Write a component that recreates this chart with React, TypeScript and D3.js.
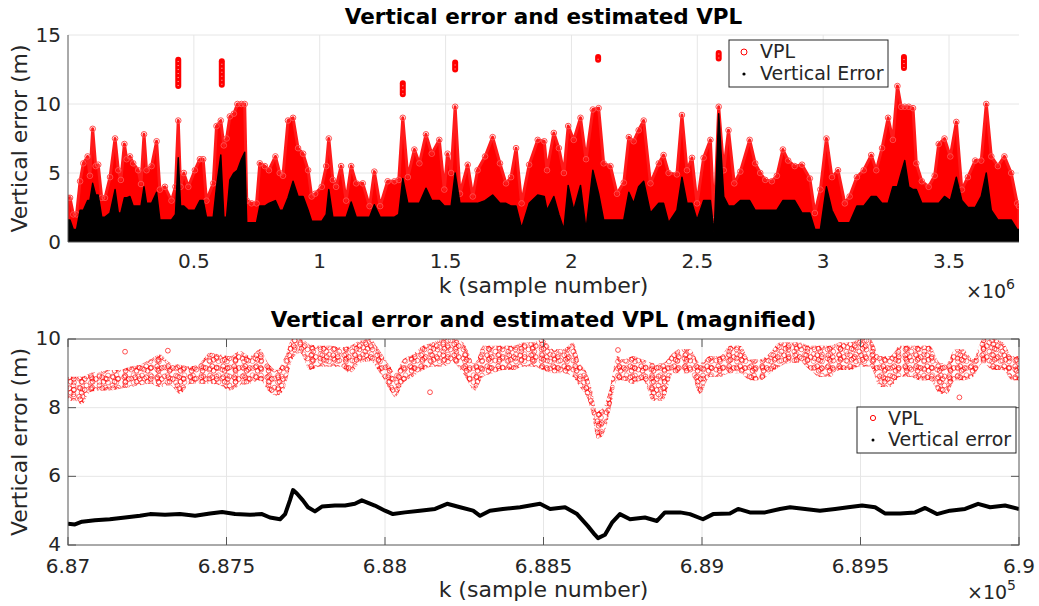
import React from "react";
import * as d3 from "d3";

// top panel: envelope of VPL / vertical error (k in 1e6)
const topK = [
  0.0, 0.008, 0.021, 0.034, 0.048, 0.061, 0.078, 0.087, 0.098, 0.11, 0.12, 0.134, 0.147, 0.167, 0.187, 0.2, 0.21,
  0.224, 0.233, 0.246, 0.259, 0.279, 0.29, 0.302, 0.312, 0.332, 0.352, 0.365, 0.385, 0.411, 0.427, 0.438, 0.447,
  0.46, 0.478, 0.504, 0.524, 0.537, 0.55, 0.577, 0.59, 0.607, 0.619, 0.63, 0.643, 0.659, 0.673, 0.689, 0.702, 0.71,
  0.729, 0.749, 0.762, 0.782, 0.798, 0.824, 0.841, 0.854, 0.874, 0.894, 0.914, 0.934, 0.954, 0.968, 0.982, 1.008,
  1.026, 1.036, 1.052, 1.065, 1.085, 1.105, 1.125, 1.145, 1.171, 1.198, 1.217, 1.24, 1.27, 1.297, 1.314, 1.33,
  1.35, 1.376, 1.396, 1.422, 1.445, 1.475, 1.495, 1.508, 1.522, 1.538, 1.557, 1.588, 1.608, 1.627, 1.657, 1.687,
  1.716, 1.74, 1.76, 1.78, 1.802, 1.832, 1.866, 1.892, 1.903, 1.93, 1.95, 1.97, 1.987, 2.009, 2.036, 2.058, 2.085,
  2.108, 2.128, 2.155, 2.181, 2.208, 2.228, 2.247, 2.267, 2.287, 2.314, 2.347, 2.366, 2.386, 2.419, 2.439, 2.459,
  2.479, 2.499, 2.525, 2.552, 2.567, 2.585, 2.605, 2.624, 2.647, 2.671, 2.708, 2.73, 2.75, 2.77, 2.796, 2.816,
  2.84, 2.861, 2.887, 2.916, 2.947, 2.967, 2.989, 3.013, 3.035, 3.059, 3.086, 3.105, 3.134, 3.161, 3.191, 3.211,
  3.234, 3.258, 3.277, 3.295, 3.31, 3.324, 3.34, 3.357, 3.37, 3.392, 3.419, 3.443, 3.459, 3.482, 3.505, 3.529,
  3.551, 3.575, 3.604, 3.628, 3.648, 3.668, 3.694, 3.72, 3.747, 3.771, 3.778,
];
const topVpl = [
  3.2, 3.2, 2.0, 2.0, 4.4, 5.7, 6.2, 4.8, 8.2, 5.5, 5.6, 3.2, 3.2, 4.7, 7.5, 5.2, 4.5, 7.1, 6.0, 6.2, 5.7, 5.2, 4.2,
  7.8, 5.2, 5.5, 7.3, 3.8, 4.0, 3.0, 4.0, 8.8, 4.0, 5.0, 4.0, 5.2, 6.0, 6.0, 3.0, 4.25, 8.4, 8.8, 7.0, 7.5, 9.1,
  9.3, 10.0, 10.0, 10.0, 3.0, 2.8, 2.8, 5.7, 5.5, 5.2, 6.2, 5.0, 4.8, 8.8, 9.0, 6.8, 6.4, 5.2, 3.3, 3.5, 4.0, 5.5,
  7.5, 4.5, 4.0, 5.5, 3.0, 5.5, 4.25, 4.25, 2.6, 5.1, 2.6, 4.4, 4.4, 4.5, 9.0, 4.7, 6.7, 5.7, 7.8, 6.4, 7.4, 3.8,
  6.4, 5.0, 9.8, 3.5, 5.6, 3.3, 5.2, 6.2, 7.6, 5.7, 4.25, 4.7, 6.8, 2.8, 5.6, 7.4, 7.3, 5.2, 7.9, 6.8, 5.0, 8.4,
  7.4, 9.0, 6.0, 9.6, 9.7, 5.7, 5.5, 3.5, 4.3, 7.6, 7.3, 8.1, 8.8, 4.25, 5.7, 6.3, 5.0, 4.9, 9.2, 5.2, 6.1, 2.8,
  6.1, 7.4, 1.6, 9.8, 5.2, 8.1, 4.25, 5.1, 7.4, 5.7, 5.0, 4.5, 4.4, 4.8, 6.7, 5.9, 5.5, 5.6, 4.6, 2.1, 3.8, 7.5,
  4.7, 5.2, 2.8, 3.3, 4.7, 5.2, 6.3, 5.2, 6.8, 9.0, 7.4, 11.3, 9.8, 9.8, 9.8, 9.7, 5.7, 4.4, 4.0, 4.8, 7.1, 7.5,
  6.2, 8.7, 3.8, 4.7, 5.9, 5.9, 10.0, 6.2, 5.5, 6.2, 5.0, 2.8, 2.6,
];
const topVe = [
  1.6, 1.6, 0.9, 0.9, 2.3, 2.3, 3.0, 3.0, 4.25, 3.4, 3.4, 1.8, 1.8, 2.1, 3.8, 2.1, 2.1, 3.2, 3.2, 3.3, 2.6, 2.6, 2.6,
  4.0, 2.8, 2.8, 3.6, 1.6, 1.6, 1.6, 2.0, 6.1, 2.6, 2.6, 2.3, 2.3, 3.0, 3.0, 1.8, 1.8, 4.0, 6.3, 1.8, 1.8, 4.5, 5.0,
  5.2, 6.0, 6.5, 1.4, 1.4, 1.4, 2.6, 2.6, 2.8, 3.0, 2.3, 2.3, 3.2, 4.4, 3.3, 3.3, 2.3, 1.5, 1.5, 1.5, 2.0, 3.8, 1.8,
  1.8, 1.8, 1.8, 2.9, 1.8, 1.8, 1.8, 2.7, 1.8, 1.8, 1.8, 2.0, 4.6, 2.8, 2.8, 2.8, 3.9, 3.0, 3.0, 2.6, 2.6, 2.6, 5.0,
  2.8, 2.8, 2.8, 2.8, 3.0, 3.4, 2.8, 2.8, 2.6, 2.6, 1.0, 2.8, 3.4, 3.3, 2.3, 3.3, 2.0, 0.9, 4.1, 2.3, 4.1, 0.9, 5.2,
  3.5, 1.6, 1.6, 1.6, 1.6, 3.6, 2.8, 4.0, 4.4, 2.1, 2.8, 2.8, 1.4, 2.3, 4.7, 2.8, 2.8, 1.6, 3.0, 3.0, 0.6, 9.3, 3.3,
  2.6, 2.6, 3.0, 3.0, 2.3, 2.3, 2.3, 2.3, 2.3, 3.0, 3.0, 3.0, 2.1, 2.1, 0.9, 0.9, 4.0, 2.3, 1.4, 1.4, 1.4, 2.6, 2.6,
  3.3, 3.3, 2.8, 2.8, 4.0, 4.0, 5.0, 5.9, 4.0, 3.8, 3.8, 2.8, 2.8, 2.8, 2.8, 3.3, 3.0, 4.7, 3.0, 2.5, 2.5, 3.3, 5.0,
  2.3, 1.6, 1.6, 1.6, 0.9, 0.9,
];
// isolated VPL clusters above the mass
const topOutK = [0.438, 0.611, 1.33, 1.538, 2.106, 2.585, 3.321];
const topOutLo = [11.3, 11.4, 10.7, 12.5, 13.2, 13.3, 12.6];
const topOutHi = [13.2, 13.1, 11.5, 13.0, 13.4, 13.7, 13.4];
const topXTicks = [0.5, 1, 1.5, 2, 2.5, 3, 3.5];
const topYTicks = [0, 5, 10, 15];

// magnified panel (k in 1e5)
const magK = [
  6.87, 6.87022, 6.87044, 6.87069, 6.87101, 6.87132, 6.87164, 6.87196, 6.87227, 6.87259, 6.8729, 6.87322, 6.87353,
  6.87385, 6.87416, 6.87448, 6.87479, 6.87511, 6.87543, 6.87574, 6.87606, 6.87631, 6.87659, 6.87685, 6.87707,
  6.87732, 6.87763, 6.87795, 6.87827, 6.87858, 6.8789, 6.87921, 6.87953, 6.87984, 6.88016, 6.88032, 6.88057,
  6.88088, 6.8812, 6.88151, 6.88183, 6.88215, 6.88246, 6.88284, 6.88309, 6.88341, 6.88372, 6.88404, 6.88435,
  6.88467, 6.88498, 6.8853, 6.88562, 6.88593, 6.88615, 6.88637, 6.88653, 6.88669, 6.88688, 6.8871, 6.88732,
  6.88751, 6.88782, 6.88814, 6.88845, 6.88877, 6.88909, 6.88931, 6.88962, 6.88994, 6.89025, 6.89057, 6.89088,
  6.8912, 6.89151, 6.89183, 6.89215, 6.89246, 6.89278, 6.89309, 6.89341, 6.89372, 6.89404, 6.89435, 6.89467,
  6.89498, 6.8953, 6.89562, 6.89593, 6.89625, 6.89656, 6.89688, 6.89719, 6.89751, 6.89773, 6.89798, 6.89823,
  6.89855, 6.89886, 6.89918, 6.8995, 6.89978, 6.9,
];
const magVplLo = [
  8.2, 8.2, 8.1, 8.45, 8.5, 8.5, 8.55, 8.6, 8.65, 8.7, 8.6, 8.65, 8.4, 8.7, 8.7, 8.7, 8.65, 8.5, 8.65, 8.7, 8.8, 8.5,
  8.35, 8.6, 9.4, 9.6, 9.1, 9.2, 9.2, 9.2, 9.0, 9.3, 9.35, 9.0, 8.5, 8.3, 8.7, 8.9, 9.1, 9.2, 9.2, 9.3, 9.0, 8.5,
  8.9, 9.0, 9.1, 9.1, 9.2, 9.2, 9.1, 9.0, 9.0, 8.9, 8.6, 8.3, 7.8, 7.1, 7.2, 7.9, 8.8, 8.8, 8.7, 8.8, 8.2, 8.2, 9.0,
  9.0, 9.0, 8.4, 8.9, 8.9, 9.0, 9.0, 8.8, 8.8, 9.0, 9.2, 9.3, 9.3, 9.1, 8.9, 8.9, 9.1, 9.1, 9.2, 9.2, 8.6, 8.6,
  8.9, 8.9, 8.8, 8.8, 8.4, 8.4, 8.8, 8.8, 8.9, 9.3, 9.1, 9.1, 8.8, 8.8,
];
const magVplHi = [
  8.9, 8.9, 8.9, 9.0, 9.05, 9.1, 9.1, 9.2, 9.25, 9.4, 9.55, 9.3, 9.25, 9.2, 9.3, 9.6, 9.55, 9.5, 9.65, 9.5, 9.7,
  9.3, 9.1, 9.5, 10.0, 10.0, 9.85, 9.8, 9.8, 9.75, 9.8, 9.95, 10.0, 9.65, 9.2, 9.0, 9.4, 9.55, 9.8, 9.9, 10.0,
  10.0, 9.9, 9.3, 9.8, 9.8, 9.8, 9.8, 9.9, 9.9, 10.0, 9.7, 9.7, 9.9, 9.3, 9.0, 8.5, 7.9, 8.0, 8.6, 9.5, 9.4, 9.5,
  9.4, 9.3, 9.3, 9.6, 9.7, 9.7, 9.3, 9.5, 9.5, 9.8, 9.8, 9.4, 9.4, 9.6, 9.9, 9.9, 9.9, 9.8, 9.8, 9.8, 9.9, 9.9,
  10.0, 10.0, 9.5, 9.5, 9.8, 9.8, 9.8, 9.8, 9.3, 9.3, 9.7, 9.7, 9.4, 10.0, 10.0, 9.9, 9.5, 9.5,
];
const magOutK = [6.8718, 6.87315, 6.88142, 6.88735, 6.89812];
const magOutV = [9.63, 9.66, 8.45, 9.68, 8.3];
const magVeK = [
  6.87, 6.87022, 6.87044, 6.87085, 6.87132, 6.8718, 6.87227, 6.87259, 6.87306, 6.87353, 6.87401, 6.87448, 6.87486,
  6.87527, 6.87574, 6.87612, 6.87637, 6.87669, 6.87685, 6.877, 6.8771, 6.87722, 6.87741, 6.87757, 6.87779, 6.87801,
  6.87842, 6.87874, 6.87905, 6.87927, 6.87968, 6.88, 6.88025, 6.88063, 6.8811, 6.88158, 6.88196, 6.88237, 6.88278,
  6.883, 6.88331, 6.88372, 6.88426, 6.88489, 6.88521, 6.88568, 6.88606, 6.8864, 6.88662, 6.88672, 6.88694, 6.88716,
  6.88741, 6.88773, 6.8882, 6.88858, 6.88883, 6.88931, 6.88962, 6.89003, 6.89035, 6.89088, 6.89114, 6.89151,
  6.89199, 6.89246, 6.89278, 6.89325, 6.89372, 6.8942, 6.89461, 6.89505, 6.89546, 6.89577, 6.89625, 6.89672,
  6.89704, 6.89741, 6.89782, 6.8983, 6.89871, 6.89909, 6.89956, 6.9,
];
const magVe = [
  4.62, 4.6, 4.68, 4.72, 4.75, 4.8, 4.85, 4.9, 4.88, 4.9, 4.85, 4.92, 4.96, 4.9, 4.88, 4.9, 4.8, 4.75, 4.9, 5.3,
  5.6, 5.5, 5.3, 5.1, 4.98, 5.12, 5.15, 5.15, 5.2, 5.3, 5.15, 5.0, 4.9, 4.95, 5.0, 5.05, 5.2, 5.1, 5.0, 4.85, 5.0,
  5.05, 5.1, 5.2, 5.05, 5.1, 4.9, 4.55, 4.3, 4.2, 4.3, 4.65, 4.9, 4.75, 4.8, 4.7, 4.95, 4.95, 4.9, 4.75, 4.9, 4.92,
  5.05, 4.95, 4.95, 5.05, 5.1, 5.05, 5.0, 5.05, 5.1, 5.15, 5.1, 4.92, 4.92, 4.95, 5.08, 4.9, 5.0, 5.05, 5.2, 5.1,
  5.15, 5.05,
];
const magXTicks = [6.87, 6.875, 6.88, 6.885, 6.89, 6.895, 6.9];
const magXLabels = ["6.87", "6.875", "6.88", "6.885", "6.89", "6.895", "6.9"];
const magYTicks = [4, 6, 8, 10];

const FONT = "DejaVu Sans, sans-serif";
const INK = "#262626";
const GRID = "#e6e6e6";
const AX = "#555";
const L = 68;
const R = 1019;

const TopPanel = () => {
  const x = d3.scaleLinear().domain([0, 3.778]).range([L, R]);
  const y = d3.scaleLinear().domain([0, 15]).range([242, 35]);
  const fill0 = d3
    .area<number>()
    .x((_, i) => x(topK[i]))
    .y0(y(0))
    .y1((d) => y(d));

	return (
		<g>
			<defs>
				<clipPath id="clipTop">
					<rect x={L} y={30} width={R - L} height={212} />
				</clipPath>
			</defs>
			{topXTicks.map((t) => (
				<line key={"gx" + t} x1={x(t)} x2={x(t)} y1={35} y2={242} stroke={GRID} />
			))}
			{topYTicks.slice(1).map((t) => (
				<line key={"gy" + t} x1={L} x2={R} y1={y(t)} y2={y(t)} stroke={GRID} />
			))}
			<g clipPath="url(#clipTop)">
				<path d={fill0(topVpl) || ""} fill="#ff0000" stroke="#ff1a1a" strokeWidth={3} strokeLinejoin="round" />
				{topVpl.map((v, i) => (
					<circle key={"c" + i} cx={x(topK[i])} cy={y(v)} r={2.8} fill="none" stroke="#ff4d4d" strokeWidth={1} />
				))}
				{topOutK.map((k, i) => (
					<g key={"o" + i}>
						<line x1={x(k)} x2={x(k)} y1={y(topOutLo[i])} y2={y(topOutHi[i])} stroke="#ff0000" strokeWidth={6} strokeLinecap="round" />
						<line x1={x(k)} x2={x(k)} y1={y(topOutLo[i])} y2={y(topOutHi[i])} stroke="#ff8080" strokeWidth={1.5} strokeDasharray="1 3" />
					</g>
				))}
				<path d={fill0(topVe) || ""} fill="#000" stroke="#000" strokeWidth={1.5} strokeLinejoin="round" />
			</g>
			<line x1={L} x2={L} y1={35} y2={242} stroke={AX} />
			<line x1={L} x2={R} y1={242} y2={242} stroke={AX} />
			{topYTicks.map((t) => (
				<text key={"ty" + t} x={61} y={y(t)} dy="0.34em" textAnchor="end" fontSize={20} fill={INK}>
					{t}
				</text>
			))}
			{topXTicks.map((t) => (
				<text key={"tx" + t} x={x(t)} y={268} textAnchor="middle" fontSize={20} fill={INK}>
					{t}
				</text>
			))}
			<text x={(L + R) / 2} y={24} textAnchor="middle" fontSize={21.5} fontWeight="bold" fill="#000">
				Vertical error and estimated VPL
			</text>
			<text x={(L + R) / 2} y={293} textAnchor="middle" fontSize={22} fill={INK}>
				k (sample number)
			</text>
			<text transform={`translate(27,${(35 + 242) / 2}) rotate(-90)`} textAnchor="middle" fontSize={22} fill={INK}>
				Vertical error (m)
			</text>
			<text x={966} y={298} fontSize={19} fill={INK}>
				×10
				<tspan fontSize={14} dy={-9}>6</tspan>
			</text>
			<g>
				<rect x={729} y={40} width={159} height={47} fill="#fff" stroke={INK} strokeWidth={1} />
				<circle cx={744} cy={52} r={3} fill="none" stroke="#ff0000" />
				<text x={760} y={58} fontSize={19} fill={INK}>VPL</text>
				<circle cx={744} cy={74} r={1.6} fill="#000" />
				<text x={760} y={80} fontSize={19} fill={INK}>Vertical Error</text>
			</g>
		</g>
	);
};

const MagPanel = () => {
	const x = d3.scaleLinear().domain([6.87, 6.9]).range([L, R]);
	const y = d3.scaleLinear().domain([4, 10]).range([545, 339]);
	const band = d3
		.area<number>()
		.x((_, i) => x(magK[i]))
		.y0((_, i) => y(magVplLo[i]))
		.y1((d) => y(d))
		.curve(d3.curveMonotoneX);
	const veLine = d3
		.line<number>()
		.x((_, i) => x(magVeK[i]))
		.y((d) => y(d));
	const bandPath = band(magVplHi) || "";
	const ring = { fill: "none", stroke: "#ff0000", strokeWidth: 0.9 };

	return (
		<g>
			<defs>
				<clipPath id="clipMag">
					<rect x={L} y={339} width={R - L} height={206} />
				</clipPath>
				<pattern id="dotsA" width={11} height={11} patternUnits="userSpaceOnUse">
					<circle cx={3.2} cy={3.2} r={2.4} strokeOpacity={0.75} {...ring} />
					<circle cx={7.8} cy={5.0} r={2.4} strokeOpacity={0.75} {...ring} />
					<circle cx={4.6} cy={7.8} r={2.4} strokeOpacity={0.75} {...ring} />
				</pattern>
				<pattern id="dotsB" width={13} height={9} patternUnits="userSpaceOnUse" patternTransform="translate(5,4)">
					<circle cx={3.5} cy={3.4} r={2.4} strokeOpacity={0.6} {...ring} />
					<circle cx={9.3} cy={5.6} r={2.4} strokeOpacity={0.6} {...ring} />
				</pattern>
				<pattern id="dotsC" width={17} height={7} patternUnits="userSpaceOnUse" patternTransform="translate(2,1)">
					<circle cx={4} cy={3.5} r={2.4} strokeOpacity={0.55} {...ring} />
					<circle cx={12.5} cy={3.2} r={2.4} strokeOpacity={0.45} {...ring} />
				</pattern>
			</defs>
			{magXTicks.slice(1, -1).map((t) => (
				<line key={"gx" + t} x1={x(t)} x2={x(t)} y1={339} y2={545} stroke={GRID} />
			))}
			{[6, 8].map((t) => (
				<line key={"gy" + t} x1={L} x2={R} y1={y(t)} y2={y(t)} stroke={GRID} />
			))}
			<g clipPath="url(#clipMag)">
				<path d={bandPath} fill="url(#dotsA)" />
				<path d={bandPath} fill="url(#dotsB)" />
				<path d={bandPath} fill="url(#dotsC)" />
				{magOutK.map((k, i) => (
					<circle key={"mo" + i} cx={x(k)} cy={y(magOutV[i])} r={2.4} strokeOpacity={0.75} {...ring} />
				))}
				<path d={veLine(magVe) || ""} fill="none" stroke="#000" strokeWidth={4} strokeLinejoin="round" />
			</g>
			<rect x={L} y={339} width={R - L} height={206} fill="none" stroke={AX} />
			{magXTicks.map((t) => (
				<g key={"tk" + t}>
					<line x1={x(t)} x2={x(t)} y1={545} y2={537} stroke={AX} />
					<line x1={x(t)} x2={x(t)} y1={339} y2={347} stroke={AX} />
				</g>
			))}
			{magYTicks.map((t) => (
				<g key={"tyk" + t}>
					<line x1={L} x2={L + 8} y1={y(t)} y2={y(t)} stroke={AX} />
					<line x1={R} x2={R - 8} y1={y(t)} y2={y(t)} stroke={AX} />
				</g>
			))}
			{magYTicks.map((t) => (
				<text key={"ty" + t} x={61} y={y(t)} dy="0.3em" textAnchor="end" fontSize={20} fill={INK}>
					{t}
				</text>
			))}
			{magXTicks.map((t, i) => (
				<text key={"tx" + t} x={x(t)} y={573} textAnchor="middle" fontSize={20} fill={INK}>
					{magXLabels[i]}
				</text>
			))}
			<text x={(L + R) / 2} y={327} textAnchor="middle" fontSize={21.5} fontWeight="bold" fill="#000">
				Vertical error and estimated VPL (magnified)
			</text>
			<text x={(L + R) / 2} y={597} textAnchor="middle" fontSize={22} fill={INK}>
				k (sample number)
			</text>
			<text transform={`translate(27,${(339 + 545) / 2}) rotate(-90)`} textAnchor="middle" fontSize={22} fill={INK}>
				Vertical error (m)
			</text>
			<text x={967} y={599} fontSize={19} fill={INK}>
				×10
				<tspan fontSize={14} dy={-9}>5</tspan>
			</text>
			<g>
				<rect x={857} y={407} width={159} height={46} fill="#fff" stroke={INK} strokeWidth={1} />
				<circle cx={873} cy={418} r={2.6} fill="none" stroke="#ff0000" />
				<text x={888} y={425} fontSize={19} fill={INK}>VPL</text>
				<circle cx={873} cy={440} r={1.5} fill="#000" />
				<text x={888} y={446} fontSize={19} fill={INK}>Vertical error</text>
			</g>
		</g>
	);
};

export default function App() {
	return (
		<svg
			width={1039}
			height={606}
			style={{ position: "absolute", left: 0, top: 0, background: "#fff" }}
			fontFamily={FONT}
		>
			<rect width={1039} height={606} fill="#fff" />
			<TopPanel />
			<MagPanel />
		</svg>
	);
}
